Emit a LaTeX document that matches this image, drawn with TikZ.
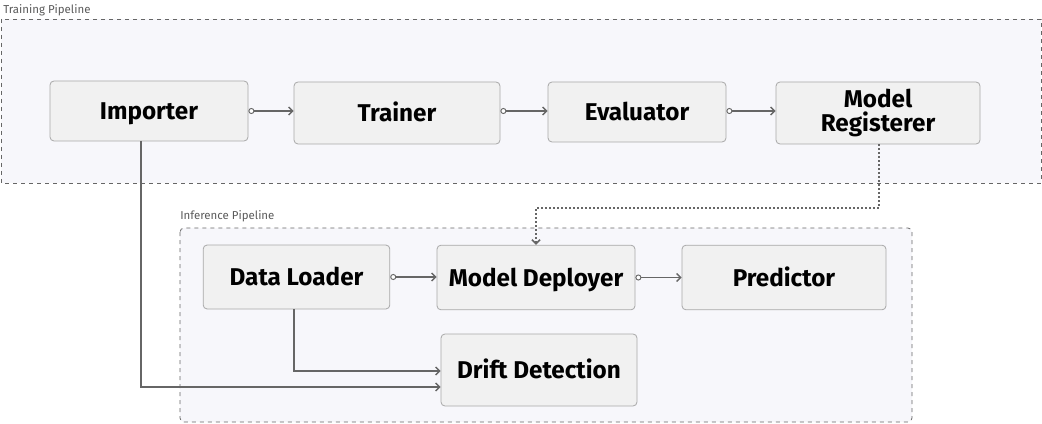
\documentclass[tikz,border=0pt]{standalone}
\usepackage{fontspec}
\setmainfont{Fira Sans}
\usetikzlibrary{arrows.meta}

\definecolor{framefill}{HTML}{F7F7FB}
\definecolor{boxfill}{HTML}{F1F1F1}
\definecolor{boxline}{HTML}{A8A8A8}
\definecolor{wire}{HTML}{666666}

\begin{document}
\begin{tikzpicture}[
    x=0.75pt, y=-0.75pt,
    frame/.style={draw=wire, dashed, fill=framefill, line width=0.6pt},
    framelabel/.style={font=\fontsize{8.6}{10}\selectfont, text=black!65, anchor=south west, inner sep=0pt},
    block/.style={draw=boxline, fill=boxfill, rounded corners=3pt,
                  line width=0.6pt, align=center,
                  font=\fontsize{18.2}{19.5}\selectfont\bfseries},
    oneline/.style={text height=16.4pt, text depth=3.6pt},
    link/.style={draw=wire, line width=1pt,
                 {Circle[open,length=4.5pt,width=4.5pt,fill=white,line width=0.7pt]}-{Straight Barb[length=3pt,width=6pt]}},
    feed/.style={draw=wire, line width=1pt, -{Straight Barb[length=3pt,width=6pt]}},
    >=stealth
]
\useasboundingbox (0,0) rectangle (1042,424);

% --- TRAINING PIPELINE ---
\draw[frame] (1,19) rectangle (1041,183);
\node[framelabel] (traintitle) at (3,16) {Training Pipeline};

% --- INFERENCE PIPELINE ---
\draw[frame, rounded corners=3pt] (180,228) rectangle (912,422);
\node[framelabel] (infertitle) at (180,222) {Inference Pipeline};

% training blocks
\node[block, oneline, minimum width=148.5pt, minimum height=45pt] (importer) at (149,111) {Importer};
\node[block, oneline, minimum width=154.5pt, minimum height=46.5pt] (trainer) at (397,113) {Trainer};
\node[block, oneline, minimum width=133.5pt, minimum height=45pt] (evaluator) at (637,112) {Evaluator};
\node[block, minimum width=153pt, minimum height=46.5pt] (registerer) at (878,113) {Model\\[-2pt]Registerer};

% inference blocks
\node[block, oneline, minimum width=140pt, minimum height=48pt] (loader) at (296.5,277) {Data Loader};
\node[block, oneline, minimum width=148.5pt, minimum height=48.5pt] (deployer) at (536,277.5) {Model Deployer};
\node[block, oneline, minimum width=153pt, minimum height=48.5pt] (predictor) at (784,277.5) {Predictor};
\node[block, oneline, minimum width=147pt, minimum height=54pt] (drift) at (539,370) {Drift Detection};

% flow
\draw[link] (importer.east) -- (importer.east -| trainer.west);
\draw[link] (trainer.east |- importer.east) -- (importer.east -| evaluator.west);
\draw[link] (evaluator.east |- importer.east) -- (importer.east -| registerer.west);
\draw[link] (loader.east) -- (loader.east -| deployer.west);
\draw[link] (deployer.east) -- (deployer.east -| predictor.west);

% deploy hand-over
\coordinate (bend) at (879,208);
\draw[feed, dotted, line width=1.1pt] (registerer.south -| bend) -- (bend) -| (deployer.north);

% drift inputs
\draw[feed] (294,309) |- (drift.west |- 0,371);
\draw[feed] (141,141) |- (drift.west |- 0,387);

\end{tikzpicture}
\end{document}
